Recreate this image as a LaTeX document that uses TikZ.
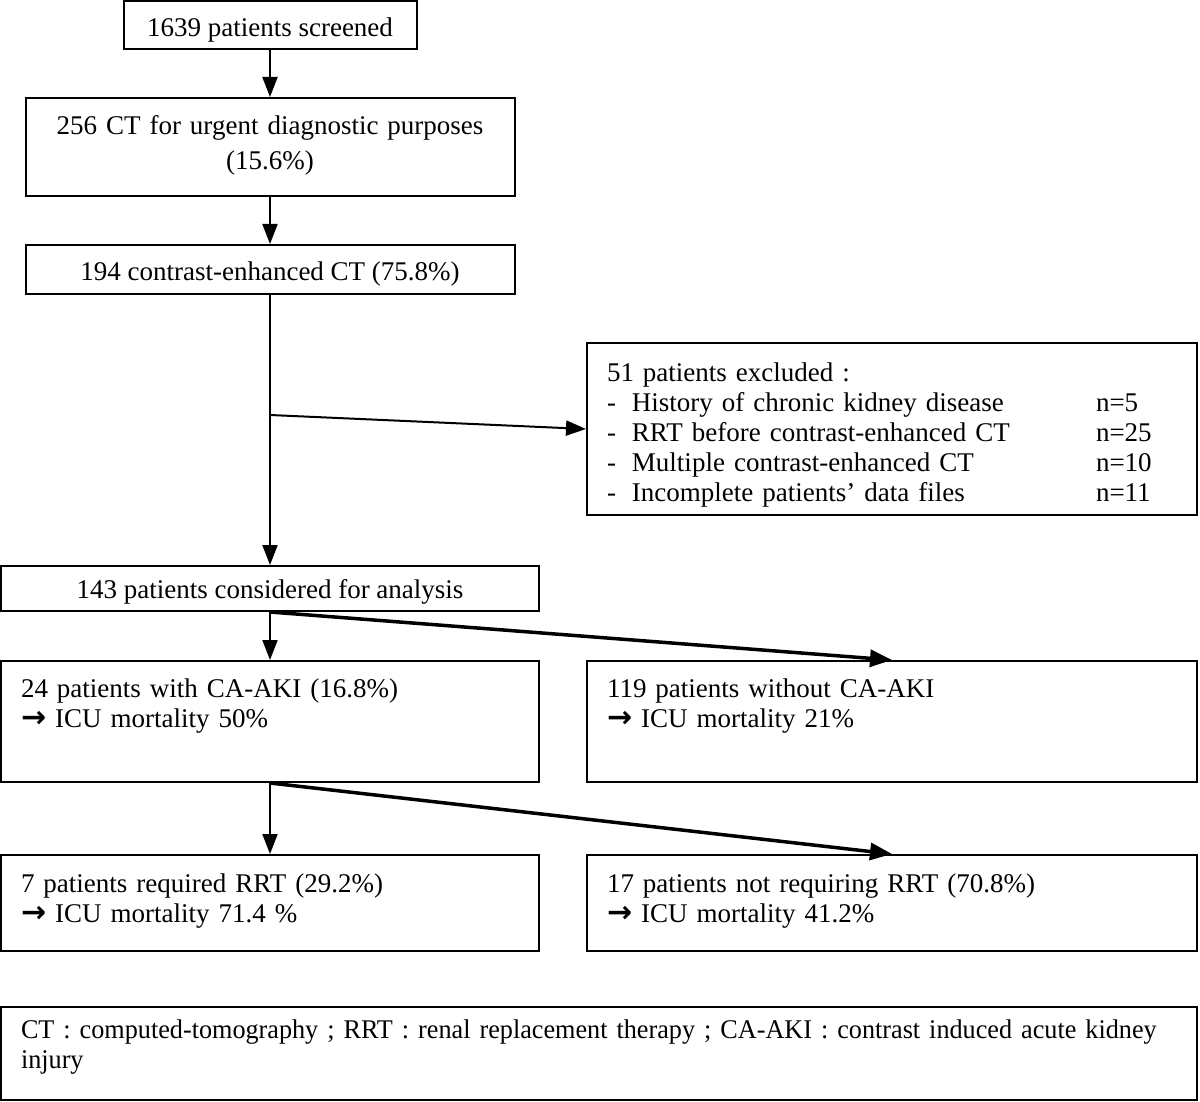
\documentclass[tikz,border=0pt]{standalone}
\usepackage{fontspec}
\setmainfont{Liberation Serif}
\newfontfamily\narrowfont[FakeStretch=0.97]{Liberation Serif}
\newfontfamily\arrowfont{DejaVu Sans}
\usetikzlibrary{arrows.meta, positioning}
\newcommand{\flowfont}{\fontsize{27pt}{30pt}\selectfont\hyphenpenalty=10000\exhyphenpenalty=10000}
\newcommand{\icuarrow}{{\arrowfont\bfseries\fontsize{30pt}{30pt}\selectfont →}}
\newcommand{\exclitem}[2]{\makebox[25pt][l]{-}\makebox[464pt][l]{#1}n=#2}

\begin{document}
\begin{tikzpicture}[
    x=1pt, y=-1pt,
    node distance=47pt,
    box/.style={rectangle, draw=black, line width=2pt, font=\flowfont, inner xsep=20pt, inner ysep=0pt, text centered},
    leftbox/.style={rectangle, draw=black, line width=2pt, font=\flowfont, align=left, inner xsep=20pt, inner ysep=0pt},
    arrow/.style={-{Triangle[length=20pt,width=15pt]}, line width=2pt},
    heavy/.style={-{Triangle[length=22pt,width=17pt]}, line width=3.5pt}
]
\useasboundingbox (0,0) rectangle (1200,1102);

\node[box, minimum width=293pt, text height=36pt, text depth=12pt, anchor=north] (screened) at (270,0) {1639 patients screened};
\node[box, align=center, text width=449pt, text height=37pt, text depth=61pt, below=of screened] (urgent)
    {256 CT for urgent diagnostic purposes\\[5pt](15.6\%)};
\node[box, minimum width=489pt, text height=35pt, text depth=14pt, below=of urgent] (contrast) {194 contrast-enhanced CT (75.8\%)};
\node[box, minimum width=538pt, text height=32pt, text depth=13pt, below=270pt of contrast] (analysis) {143 patients considered for analysis};

\node[leftbox, text width=570pt, text height=38pt, text depth=134pt, anchor=north west] (excluded) at (586,342)
    {51 patients excluded :\\
     \exclitem{History of chronic kidney disease}{5}\\
     \exclitem{RRT before contrast-enhanced CT}{25}\\
     \exclitem{Multiple contrast-enhanced CT}{10}\\
     \exclitem{Incomplete patients’ data files}{11}};

\node[leftbox, text width=498pt, text height=36pt, text depth=85pt, below=48pt of analysis] (aki)
    {24 patients with CA-AKI (16.8\%)\\\icuarrow{} ICU mortality 50\%};
\node[leftbox, text width=570pt, text height=36pt, text depth=85pt, right=46pt of aki] (noaki)
    {119 patients without CA-AKI\\\icuarrow{} ICU mortality 21\%};
\node[leftbox, text width=498pt, text height=37pt, text depth=59pt, below=71pt of aki] (rrt)
    {7 patients required RRT (29.2\%)\\\icuarrow{} ICU mortality 71.4 \%};
\node[leftbox, text width=570pt, text height=37pt, text depth=59pt, right=46pt of rrt] (norrt)
    {17 patients not requiring RRT (70.8\%)\\\icuarrow{} ICU mortality 41.2\%};

\node[leftbox, font=\flowfont\narrowfont, text width=1156pt, text height=31pt, text depth=62pt, anchor=north west] (abbrev) at (0,1006)
    {CT : computed-tomography ; RRT : renal replacement therapy ; CA-AKI : contrast induced acute kidney\\injury};

% connectors
\coordinate (split) at (270,415);
\draw[arrow] (screened) -- (urgent);
\draw[arrow] (urgent) -- (contrast);
\draw[arrow] (contrast) -- (analysis);
\draw[arrow] (split) -- (excluded.west);
\draw[arrow] (analysis) -- (aki);
\draw[heavy] (analysis.south) -- (noaki.north);
\draw[arrow] (aki) -- (rrt);
\draw[heavy] (aki.south) -- (norrt.north);

\end{tikzpicture}
\end{document}
